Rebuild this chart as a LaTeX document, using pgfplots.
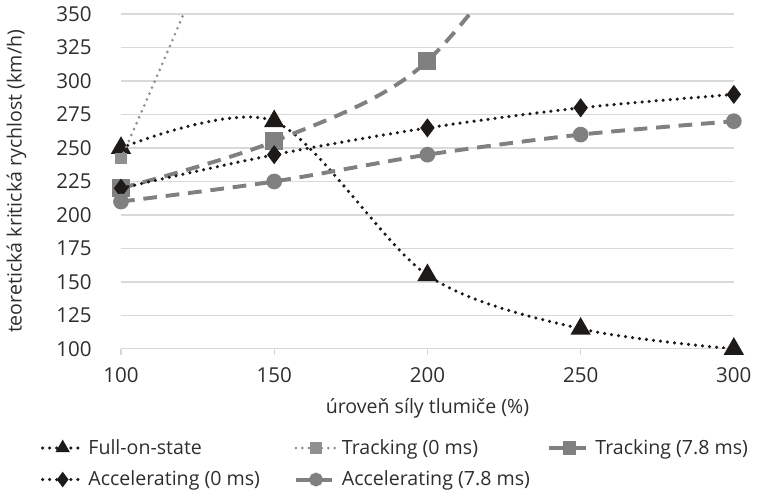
\documentclass[border=0pt]{standalone}
\usepackage{fontspec}
\setmainfont{Open Sans}
\usepackage{pgfplots}
\pgfplotsset{compat=1.18}
\definecolor{txt}{HTML}{2E2E2E}
\definecolor{grd}{HTML}{D9D9D9}
\definecolor{blk}{HTML}{1E1A18}
\definecolor{gr}{HTML}{808080}
\definecolor{lgr}{HTML}{8F8F8F}
\newcommand{\legtxt}[1]{\makebox[103pt][l]{#1}}
\begin{document}
\begin{tikzpicture}[font=\fontsize{10}{12}\selectfont]
\begin{axis}[
    scale only axis,
    width=313pt, height=171pt,
    xmin=100, xmax=300, ymin=100, ymax=350,
    xtick={100,150,...,300}, ytick={100,125,...,350},
    axis x line*=bottom, axis y line*=left,
    y axis line style={draw=none},
    ymajorgrids, grid style={grd, line width=0.6pt},
    x axis line style={grd, line width=0.6pt, -},
    xtick style={grd, line width=0.6pt},
    xtick align=outside, major tick length=3pt,
    ytick style={draw=none},
    /pgf/number format/assume math mode=true,
    /pgf/number format/1000 sep={},
    tick label style={text=txt, font=\fontsize{10.5}{12}\selectfont},
    yticklabel style={xshift=-11.5pt},
    xticklabel style={yshift=-3pt},
    xlabel={úroveň síly tlumiče (\%)},
    ylabel={teoretická kritická rychlost (km/h)},
    label style={text=txt},
    ylabel style={yshift=8.5pt},
    xlabel style={yshift=-1pt},
    clip mode=individual,
    legend columns=3,
    legend cell align=left,
    legend style={at={(-0.141,-0.245)}, anchor=north west, draw=none, fill=none,
        text=txt, /tikz/every even column/.append style={column sep=0pt},
        row sep=3pt},
    legend image code/.code={
        \draw[mark repeat=2,mark phase=2,#1,mark size=2.5pt] plot coordinates {(0cm,0cm) (0.36cm,0cm) (0.72cm,0cm)};},
    dotb/.style={blk, line width=1.8pt, line cap=round, dash pattern=on 0pt off 3.6pt},
    dotg/.style={lgr, line width=1.5pt, line cap=round, dash pattern=on 0pt off 3.3pt},
    dashg/.style={gr, line width=2pt, dash pattern=on 7pt off 4.5pt},
]
\addplot[dotb, smooth, mark=triangle*, mark size=4.2pt, mark options={solid, fill=blk, draw=blk}]
    coordinates {(100,250) (150,270) (200,155) (250,115) (300,100)};
\addlegendentry{\legtxt{Full-on-state}}
\addplot[dotg, smooth, mark=square*, mark size=2.2pt, mark options={solid, fill=lgr, draw=lgr}]
    coordinates {(100,242) (150,520) (200,900)};
\addlegendentry{\legtxt{Tracking (0 ms)}}
\addplot[dashg, smooth, mark=square*, mark size=3.6pt, mark options={solid, fill=gr, draw=gr}]
    coordinates {(100,220) (150,255) (200,315) (250,470) (300,700)};
\addlegendentry{Tracking (7.8 ms)}
\addplot[dotb, smooth, mark=diamond*, mark size=3.4pt, mark options={solid, fill=blk, draw=blk}]
    coordinates {(100,220) (150,245) (200,265) (250,280) (300,290)};
\addlegendentry{\legtxt{Accelerating (0 ms)}}
\addplot[dashg, smooth, mark=*, mark size=3pt, mark options={solid, fill=gr, draw=gr}]
    coordinates {(100,210) (150,225) (200,245) (250,260) (300,270)};
\addlegendentry{\legtxt{Accelerating (7.8 ms)}}
\end{axis}
\end{tikzpicture}
\end{document}
